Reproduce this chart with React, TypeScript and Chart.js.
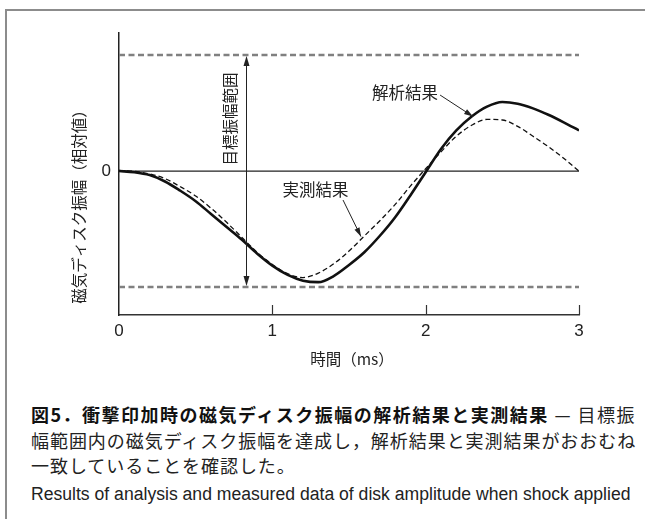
import React, { useEffect, useRef } from 'react';
import { Chart, registerables } from 'chart.js';

Chart.register(...registerables);

// ---- data ----
const timeMs = [0, 0.1, 0.2, 0.3, 0.4, 0.5, 0.6, 0.7, 0.8, 0.9, 1.0, 1.1, 1.2, 1.3, 1.4, 1.5, 1.6, 1.7, 1.8, 1.9, 2.0, 2.1, 2.2, 2.3, 2.4, 2.5, 2.6, 2.7, 2.8, 2.9, 3.0];
const analysisResult = [0, -0.01, -0.035, -0.09, -0.17, -0.26, -0.37, -0.48, -0.59, -0.71, -0.815, -0.895, -0.945, -0.958, -0.905, -0.81, -0.7, -0.56, -0.4, -0.21, -0.01, 0.19, 0.35, 0.47, 0.555, 0.595, 0.58, 0.54, 0.485, 0.42, 0.35];
const measuredResult = [0.005, -0.003, -0.025, -0.065, -0.135, -0.215, -0.32, -0.44, -0.57, -0.7, -0.805, -0.885, -0.918, -0.88, -0.8, -0.69, -0.56, -0.43, -0.29, -0.13, 0.02, 0.165, 0.3, 0.395, 0.445, 0.44, 0.385, 0.3, 0.21, 0.11, 0.0];
const targetLimits = [1, -1];
const zeroLevel = [0];
const xTickValues = [0, 1, 2, 3];
const yTickValues = [0];
const xRange = [0, 3];
const yRange = [-1.241, 1.19];

// ---- text ----
const yTitle = '磁気ディスク振幅（相対値）';
const xTitle = '時間（ms）';
const rangeLabel = '目標振幅範囲';
const rangeArrowX = 0.83;
const curveLabels = [
  { text: '解析結果', x: 1.865, y: 0.672, from: [2.094, 0.655], to: [2.309, 0.47] },
  { text: '実測結果', x: 1.281, y: -0.164, from: [1.461, -0.25], to: [1.578, -0.565] },
];

const JP = '"Noto Sans CJK JP", "Noto Sans", sans-serif';
const NUM = '"Liberation Sans", Arial, sans-serif';

function arrowHead(ctx: CanvasRenderingContext2D, x1: number, y1: number, x2: number, y2: number, len: number, half: number) {
  const a = Math.atan2(y2 - y1, x2 - x1);
  ctx.beginPath();
  ctx.moveTo(x2, y2);
  ctx.lineTo(x2 - len * Math.cos(a) + half * Math.sin(a), y2 - len * Math.sin(a) - half * Math.cos(a));
  ctx.lineTo(x2 - len * Math.cos(a) - half * Math.sin(a), y2 - len * Math.sin(a) + half * Math.cos(a));
  ctx.closePath();
  ctx.fill();
}

const annotPlugin = {
  id: 'annot',
  afterDatasetsDraw(chart: any) {
    const { ctx, chartArea, scales } = chart;
    const x = scales.x;
    const y = scales.y;
    ctx.save();
    // inner tick marks
    ctx.strokeStyle = '#333';
    ctx.lineWidth = 1.2;
    for (const t of xTickValues) {
      if (t === xRange[0]) continue;
      const px = Math.round(x.getPixelForValue(t)) + 0.5;
      ctx.beginPath();
      ctx.moveTo(px, chartArea.bottom);
      ctx.lineTo(px, chartArea.bottom - 10);
      ctx.stroke();
    }
    // target range double arrow
    const ax = Math.round(x.getPixelForValue(rangeArrowX)) + 0.5;
    const yTop = y.getPixelForValue(targetLimits[0]);
    const yBot = y.getPixelForValue(targetLimits[1]);
    ctx.strokeStyle = '#222';
    ctx.fillStyle = '#222';
    ctx.lineWidth = 1;
    ctx.beginPath();
    ctx.moveTo(ax, yTop + 6);
    ctx.lineTo(ax, yBot - 6);
    ctx.stroke();
    arrowHead(ctx, ax, yTop + 20, ax, yTop + 1, 10, 3);
    arrowHead(ctx, ax, yBot - 20, ax, yBot - 1, 10, 3);
    // range label (rotated)
    ctx.fillStyle = '#222';
    ctx.font = `15.5px ${JP}`;
    ctx.textAlign = 'center';
    ctx.textBaseline = 'middle';
    ctx.save();
    ctx.translate(ax - 16, (yTop + y.getPixelForValue(zeroLevel[0])) / 2 + 6);
    ctx.rotate(-Math.PI / 2);
    ctx.fillText(rangeLabel, 0, 0);
    ctx.restore();
    // curve labels & arrows
    ctx.font = `16.5px ${JP}`;
    for (const c of curveLabels) {
      ctx.fillText(c.text, x.getPixelForValue(c.x), y.getPixelForValue(c.y));
      const x1 = x.getPixelForValue(c.from[0]);
      const y1 = y.getPixelForValue(c.from[1]);
      const x2 = x.getPixelForValue(c.to[0]);
      const y2 = y.getPixelForValue(c.to[1]);
      ctx.beginPath();
      ctx.moveTo(x1, y1);
      ctx.lineTo(x2, y2);
      ctx.stroke();
      arrowHead(ctx, x1, y1, x2, y2, 9, 2.8);
    }
    // axis titles
    ctx.font = `15.5px ${JP}`;
    ctx.save();
    ctx.translate(chartArea.left - 40, (chartArea.top + chartArea.bottom) / 2 + 29);
    ctx.rotate(-Math.PI / 2);
    ctx.fillText(yTitle, 0, 0);
    ctx.restore();
    ctx.fillText(xTitle, (chartArea.left + chartArea.right) / 2 + 3, chartArea.bottom + 44);
    ctx.restore();
  },
};

function ChartView() {
  const ref = useRef<HTMLCanvasElement | null>(null);
  useEffect(() => {
    if (!ref.current) return;
    const line = (v: number) => xRange.map((t) => ({ x: t, y: v }));
    const chart = new Chart(ref.current, {
      type: 'line',
      data: {
        datasets: [
          {
            label: '解析結果',
            data: timeMs.map((t, i) => ({ x: t, y: analysisResult[i] })),
            borderColor: '#111',
            borderWidth: 2.6,
            pointRadius: 0,
            cubicInterpolationMode: 'monotone',
          },
          {
            label: '実測結果',
            data: timeMs.map((t, i) => ({ x: t, y: measuredResult[i] })),
            borderColor: '#111',
            borderWidth: 1.3,
            borderDash: [5, 3],
            pointRadius: 0,
            cubicInterpolationMode: 'monotone',
          },
          {
            label: 'zero',
            data: line(zeroLevel[0]),
            borderColor: '#222',
            borderWidth: 1.3,
            pointRadius: 0,
          },
          {
            label: 'upper',
            data: line(targetLimits[0]),
            borderColor: '#808080',
            borderWidth: 2.5,
            borderDash: [6, 3.5],
            pointRadius: 0,
          },
          {
            label: 'lower',
            data: line(targetLimits[1]),
            borderColor: '#808080',
            borderWidth: 2.5,
            borderDash: [6, 3.5],
            pointRadius: 0,
          },
        ],
      },
      options: {
        animation: false,
        responsive: false,
        devicePixelRatio: 1,
        layout: { padding: { left: 0, right: 66, top: 33, bottom: 0 } },
        plugins: { legend: { display: false }, tooltip: { enabled: false } },
        scales: {
          x: {
            type: 'linear',
            min: xRange[0],
            max: xRange[1],
            afterFit: (s: any) => { s.height = 55; },
            afterBuildTicks: (s: any) => { s.ticks = xTickValues.map((v) => ({ value: v })); },
            grid: { display: false, drawTicks: false },
            border: { display: true, color: '#333', width: 1.5 },
            ticks: { color: '#222', font: { family: NUM, size: 17 }, padding: 6, autoSkip: false, maxRotation: 0 },
          },
          y: {
            type: 'linear',
            min: yRange[0],
            max: yRange[1],
            afterFit: (s: any) => { s.width = 119; },
            afterBuildTicks: (s: any) => { s.ticks = yTickValues.map((v) => ({ value: v })); },
            grid: { display: false, drawTicks: false },
            border: { display: true, color: '#222', width: 1.5 },
            ticks: { color: '#222', font: { family: NUM, size: 17 }, padding: 8, autoSkip: false, callback: (v: any) => String(v) },
          },
        },
      },
      plugins: [annotPlugin],
    } as any);
    return () => chart.destroy();
  }, []);
  return <canvas ref={ref} width={645} height={370} style={{ position: 'absolute', left: 0, top: 0, width: 645, height: 370 }} />;
}

export default function App() {
  const lineStyle: React.CSSProperties = {
    position: 'absolute',
    left: 31,
    whiteSpace: 'nowrap',
    fontFamily: JP,
    fontSize: 18,
    letterSpacing: '0.95px',
    lineHeight: '26px',
    color: '#222',
  };
  return (
    <div style={{ position: 'absolute', left: 0, top: 0, width: 645, height: 519, overflow: 'hidden', background: '#fff' }}>
      <div style={{ position: 'absolute', left: 5, top: 9, width: 645, height: 520, borderTop: '2px solid #8c8c8c', borderLeft: '2px solid #8c8c8c', boxSizing: 'border-box' }} />
      <ChartView />
      <div style={{ ...lineStyle, top: 401, letterSpacing: '1.5px' }}>
        <span style={{ fontWeight: 700, color: '#111' }}>図5．衝撃印加時の磁気ディスク振幅の解析結果と実測結果</span>
        <span style={{ fontWeight: 400 }}> — 目標振</span>
      </div>
      <div style={{ ...lineStyle, top: 427 }}>幅範囲内の磁気ディスク振幅を達成し，解析結果と実測結果がおおむね</div>
      <div style={{ ...lineStyle, top: 452 }}>一致していることを確認した。</div>
      <div style={{ ...lineStyle, top: 482, fontFamily: NUM, fontSize: 17.6, letterSpacing: '0px', lineHeight: '24px' }}>
        Results of analysis and measured data of disk amplitude when shock applied
      </div>
    </div>
  );
}
